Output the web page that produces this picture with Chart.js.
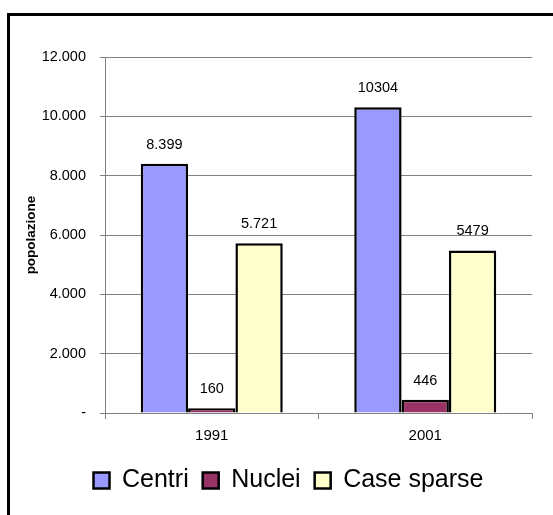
<!DOCTYPE html>
<html>
<head>
<meta charset="utf-8">
<script src="https://cdn.jsdelivr.net/npm/chart.js@4/dist/chart.umd.min.js"></script>
<style>
  html, body { margin: 0; padding: 0; background: #fff; }
  #wrap { width: 553px; height: 515px; position: relative; }
</style>
</head>
<body>
<div id="wrap"><canvas id="c" width="553" height="515"></canvas></div>
<script>
// Popolazione per tipo di località, censimenti 1991 e 2001
const years = ['1991', '2001'];
const centri = [8399, 10304];
const nuclei = [160, 446];
const caseSparse = [5721, 5479];

// Etichette dei valori, come stampate sopra le colonne
const centriLabels = ['8.399', '10304'];
const nucleiLabels = ['160', '446'];
const caseSparseLabels = ['5.721', '5479'];

// Etichette dell'asse verticale (da 0 a 12.000)
const yTickLabels = ['-', '2.000', '4.000', '6.000', '8.000', '10.000', '12.000'];

Chart.defaults.font.family = '"Liberation Sans", Arial, Helvetica, sans-serif';
Chart.defaults.color = '#000';

// Cornice esterna e sfondo bianco
const framePlugin = {
  id: 'frame',
  beforeDraw(chart) {
    const ctx = chart.ctx;
    ctx.save();
    ctx.fillStyle = '#fff';
    ctx.fillRect(0, 0, chart.width, chart.height);
    ctx.strokeStyle = '#000';
    ctx.lineWidth = 3;
    ctx.beginPath();
    ctx.moveTo(8.5, chart.height + 10);
    ctx.lineTo(8.5, 14.5);
    ctx.lineTo(chart.width + 10, 14.5);
    ctx.stroke();
    ctx.restore();
  }
};

// La legenda è centrata sulla cornice, un po' più a destra del grafico
const legendShiftPlugin = {
  id: 'legendShift',
  afterLayout(chart) {
    const lg = chart.legend;
    if (lg) { lg.left += 11; lg.right += 11; lg.top += 2; lg.bottom += 2; }
  }
};

// Valori scritti sopra ogni colonna
const valueLabelPlugin = {
  id: 'valueLabels',
  afterDatasetsDraw(chart) {
    const ctx = chart.ctx;
    ctx.save();
    ctx.font = '14.5px "Liberation Sans", Arial, sans-serif';
    ctx.fillStyle = '#000';
    ctx.textAlign = 'center';
    ctx.textBaseline = 'middle';
    chart.data.datasets.forEach((ds, di) => {
      const meta = chart.getDatasetMeta(di);
      meta.data.forEach((bar, i) => {
        ctx.fillText(ds.valueLabels[i], bar.x, bar.y - 19);
      });
    });
    ctx.restore();
  }
};

new Chart(document.getElementById('c'), {
  type: 'bar',
  data: {
    labels: years,
    datasets: [
      { label: 'Centri', data: centri, valueLabels: centriLabels,
        backgroundColor: '#9999FF', borderColor: '#000', borderWidth: 2.5 },
      { label: 'Nuclei', data: nuclei, valueLabels: nucleiLabels,
        backgroundColor: '#993366', borderColor: '#000', borderWidth: 2.5 },
      { label: 'Case sparse', data: caseSparse, valueLabels: caseSparseLabels,
        backgroundColor: '#FFFFCC', borderColor: '#000', borderWidth: 2.5 }
    ]
  },
  options: {
    responsive: false,
    animation: false,
    devicePixelRatio: 1,
    layout: { padding: { left: 23, right: 21, top: 57, bottom: 14 } },
    datasets: { bar: { categoryPercentage: 0.665, barPercentage: 1.0 } },
    plugins: {
      tooltip: { enabled: false },
      legend: {
        position: 'bottom',
        labels: {
          boxWidth: 16,
          boxHeight: 16,
          padding: 14,
          color: '#000',
          font: { size: 25 }
        }
      }
    },
    scales: {
      x: {
        grid: { drawOnChartArea: false, drawTicks: true, tickLength: 6, color: '#808080', offset: true },
        border: { color: '#808080', width: 1 },
        ticks: { font: { size: 15 }, color: '#000', padding: 8 },
        afterFit(s) { s.height = 39; }
      },
      y: {
        min: 0,
        max: 12000,
        ticks: {
          stepSize: 2000,
          font: { size: 14.5 },
          color: '#000',
          padding: 14,
          callback: (v, i) => yTickLabels[i]
        },
        grid: { color: '#808080', lineWidth: 1, tickLength: 5 },
        border: { color: '#808080', width: 1 },
        title: {
          display: true,
          text: 'popolazione',
          color: '#000',
          padding: 0,
          font: { size: 13.5, weight: 'bold' }
        },
        afterFit(s) { s.width = 82; }
      }
    }
  },
  plugins: [framePlugin, legendShiftPlugin, valueLabelPlugin]
});
</script>
</body>
</html>
